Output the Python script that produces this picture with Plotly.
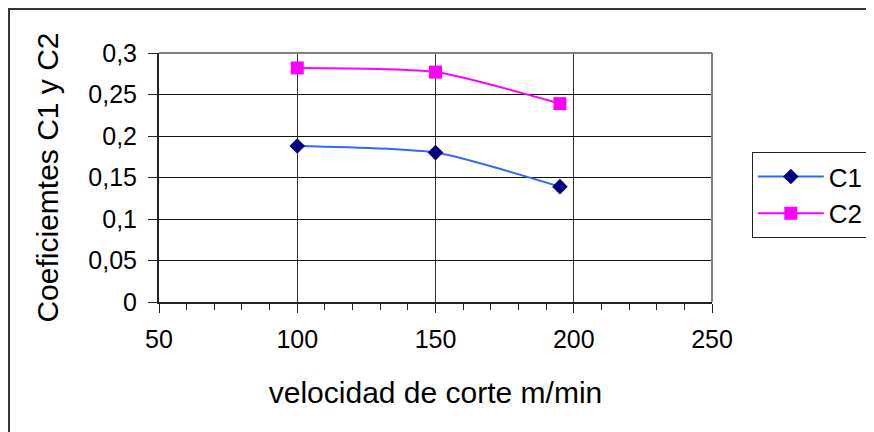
import plotly.graph_objects as go

# %% data
velocidad = [100, 150, 195]
c1 = [0.188, 0.180, 0.139]
c2 = [0.282, 0.277, 0.239]

font = "Liberation Sans, Arial, sans-serif"

# %%
fig = go.Figure()
fig.add_trace(
    go.Scatter(
        x=velocidad,
        y=c1,
        name="C1",
        mode="lines+markers",
        line=dict(color="#3366FF", width=2, shape="spline", smoothing=0.6),
        marker=dict(symbol="diamond", size=12, color="#000080"),
    )
)
fig.add_trace(
    go.Scatter(
        x=velocidad,
        y=c2,
        name="C2",
        mode="lines+markers",
        line=dict(color="#FF00FF", width=2, shape="spline", smoothing=0.6),
        marker=dict(symbol="square", size=13, color="#FF00FF"),
    )
)

fig.layout.xaxis.update(
    range=[50, 250],
    dtick=50,
    tick0=50,
    showgrid=True,
    gridcolor="#333",
    gridwidth=1,
    zeroline=False,
    showline=True,
    linecolor="#222",
    linewidth=2,
    ticks="outside",
    ticklen=9,
    tickcolor="#222",
    minor=dict(dtick=10, tick0=50, ticks="outside", ticklen=6, tickcolor="#222", showgrid=False),
    ticklabelstandoff=5,
    title=dict(text="velocidad de corte m/min", standoff=30),
)
fig.layout.yaxis.update(
    range=[0, 0.3],
    dtick=0.05,
    showgrid=True,
    gridcolor="#111",
    gridwidth=1,
    zeroline=False,
    showline=True,
    linecolor="#222",
    linewidth=2,
    ticks="outside",
    ticklen=9,
    tickcolor="#222",
    ticklabelstandoff=6,
    title=dict(text="Coeficiemtes C1 y C2", standoff=21),
)

# grey top/right plot border and the outer chart frame
fig.add_shape(type="line", xref="paper", yref="paper", x0=0, x1=1, y0=1, y1=1,
              line=dict(color="#808080", width=2))
fig.add_shape(type="line", xref="paper", yref="paper", x0=1, x1=1, y0=0, y1=1,
              line=dict(color="#808080", width=2))
fig.add_shape(type="rect", xref="paper", yref="paper", x0=-0.2712, x1=1.35, y0=-0.6,
              y1=1.1767, line=dict(color="#333", width=2))

fig.update_layout(
    width=874,
    height=432,
    margin=dict(l=151, r=170, t=45, b=138),
    paper_bgcolor="white",
    plot_bgcolor="white",
    separators=",.",
    font=dict(family=font, size=25, color="black"),
    showlegend=True,
    legend=dict(
        x=1.072,
        y=0.602,
        xanchor="left",
        yanchor="top",
        bordercolor="#222",
        borderwidth=1,
        bgcolor="white",
        font=dict(size=26),
        itemwidth=66,
        tracegroupgap=4,
    ),
)

fig.write_html("out.html")
